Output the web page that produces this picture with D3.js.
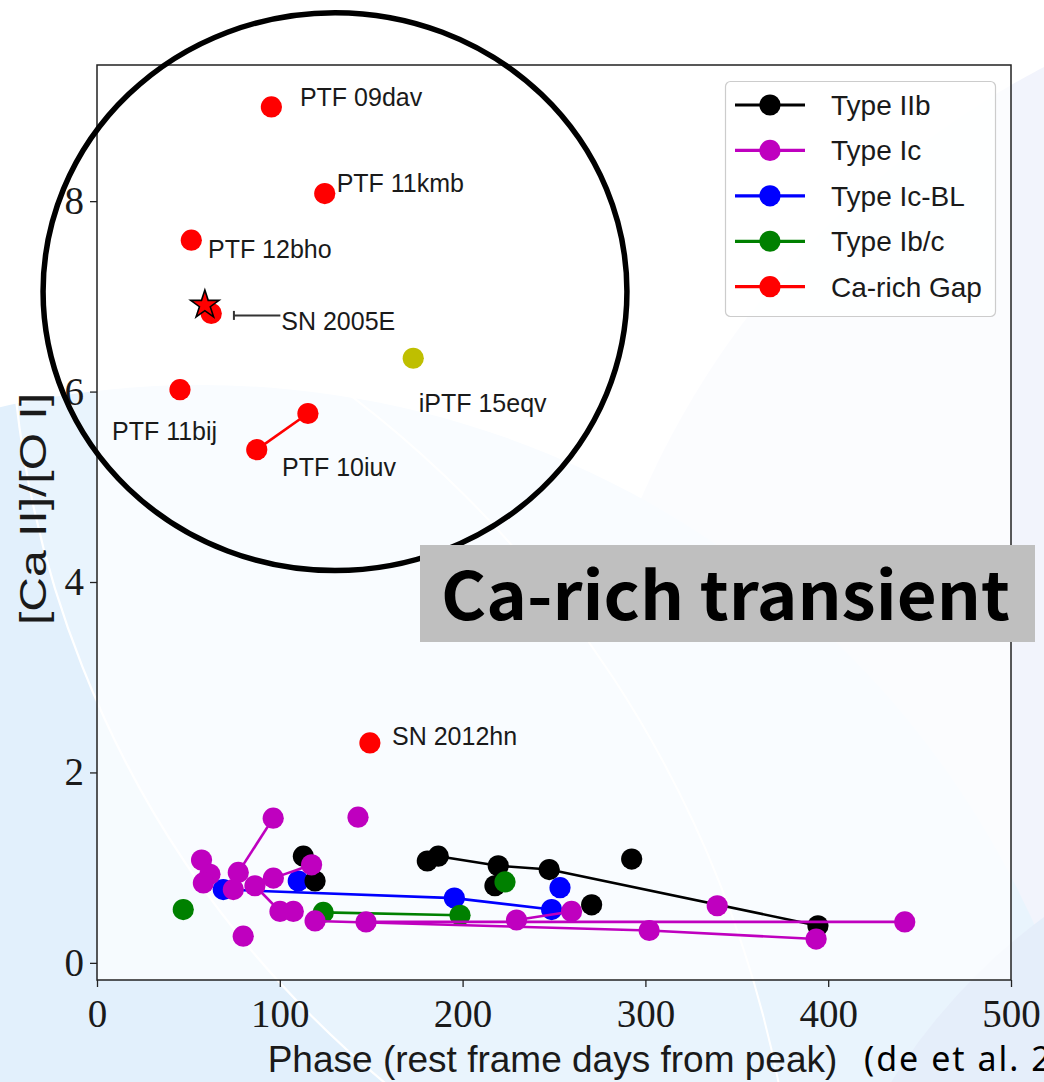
<!DOCTYPE html>
<html>
<head>
<meta charset="utf-8">
<script src="https://cdn.jsdelivr.net/npm/d3@7"></script>
<style>
  html, body { margin: 0; padding: 0; background: #fff; }
  svg { display: block; }
</style>
</head>
<body>
<svg id="chart" width="1044" height="1082"></svg>
<script>
// Nebular [Ca II]/[O I] line ratio against phase for stripped-envelope
// supernovae and Ca-rich gap transients.

const seriesNames = ["Type IIb", "Type Ic", "Type Ic-BL", "Type Ib/c", "Ca-rich Gap"];
const xTickValues = [0, 100, 200, 300, 400, 500];
const yTickValues = [0, 2, 4, 6, 8];

// Each inner list is one object followed over time: [phase (days), ratio].
const typeIIb = [
  [[186.7, 1.12], [219.5, 1.02], [247.4, 0.98], [394.4, 0.39]],
  [[180.7, 1.07]],
  [[217.7, 0.81]],
  [[270.6, 0.61]],
  [[292.5, 1.09]],
  [[112.9, 1.12], [119.3, 0.86]]
];

const typeIc = [
  [[96.4, 1.52], [77.3, 0.95]],
  [[96.5, 0.89], [117.4, 1.03]],
  [[86.4, 0.81], [100.1, 0.54], [107.4, 0.54]],
  [[119.3, 0.44], [302.1, 0.34], [393.4, 0.25]],
  [[147.2, 0.43], [441.9, 0.43]],
  [[229.5, 0.45], [259.6, 0.54]],
  [[57.2, 1.08]],
  [[61.8, 0.93]],
  [[58.2, 0.84]],
  [[74.6, 0.77]],
  [[80.0, 0.28]],
  [[142.8, 1.53]],
  [[339.3, 0.60]]
];

const typeIcBL = [
  [[69.1, 0.77], [195.5, 0.68], [248.7, 0.56]],
  [[110.1, 0.86]],
  [[253.3, 0.79]]
];

const typeIbc = [
  [[47.2, 0.56]],
  [[123.8, 0.53], [198.6, 0.50]],
  [[223.2, 0.85]]
];

const caRichNames = ["PTF 09dav", "PTF 11kmb", "PTF 12bho", "SN 2005E", "PTF 11bij", "PTF 10iuv", "SN 2012hn"];
const caRichTracks = [
  [[95.4, 8.99]],
  [[124.6, 8.08]],
  [[51.6, 7.59]],
  [[62.5, 6.82]],
  [[45.4, 6.02]],
  [[87.4, 5.39], [115.4, 5.77]],
  [[149.3, 2.31]]
];

const iptf15eqvName = "iPTF 15eqv";
const iptf15eqv = [173.0, 6.35];
const sn2005eStar = [59.0, 6.91];

// ---------------------------------------------------------------- layout
const W = 1044, H = 1082;
const plotBox = { left: 97, right: 1011, top: 65, bottom: 980 };

const svg = d3.select("#chart");

const x = d3.scaleLinear().domain([0, 500]).range([plotBox.left, plotBox.right]);
const y = d3.scaleLinear().domain([-0.18, 9.43]).range([plotBox.bottom, plotBox.top]);

const colour = {
  "Type IIb": "#000000",
  "Type Ic": "#bf00bf",
  "Type Ic-BL": "#0000ff",
  "Type Ib/c": "#008000",
  "Ca-rich Gap": "#ff0000"
};
const olive = "#bfbf00";

const markerR = 10.6;
const lineW = 2.6;
const sansFont = "'Liberation Sans', Arial, sans-serif";
const serifFont = "'Liberation Serif', 'DejaVu Serif', serif";

// ---------------------------------------------------------------- slide backdrop
const bg = svg.append("g").attr("class", "backdrop");
bg.append("rect").attr("width", W).attr("height", H).attr("fill", "#ffffff");
bg.append("circle").attr("cx", 1450).attr("cy", 850).attr("r", 882).attr("fill", "#eef0fb");
bg.append("circle").attr("cx", 200).attr("cy", 1300).attr("r", 915).attr("fill", "#e2f0fc");
bg.append("circle").attr("cx", 1400).attr("cy", 1400).attr("r", 600).attr("fill", "#dde8f9");
bg.append("circle").attr("cx", 1042).attr("cy", 287).attr("r", 1032)
  .attr("fill", "#ffffff").attr("fill-opacity", 0.25)
  .attr("stroke", "#ffffff").attr("stroke-width", 2.2);
bg.append("circle").attr("cx", -343).attr("cy", 1304).attr("r", 1143)
  .attr("fill", "none").attr("stroke", "#ffffff").attr("stroke-width", 2);

// axes background (semi-transparent white)
svg.append("rect")
  .attr("x", plotBox.left).attr("y", plotBox.top)
  .attr("width", plotBox.right - plotBox.left)
  .attr("height", plotBox.bottom - plotBox.top)
  .attr("fill", "#ffffff").attr("fill-opacity", 0.7);

// ---------------------------------------------------------------- data
const plot = svg.append("g").attr("class", "plot");
const line = d3.line().x(d => x(d[0])).y(d => y(d[1]));

function drawTracks(tracks, name) {
  const c = colour[name];
  const g = plot.append("g").attr("class", "series");
  tracks.forEach(t => {
    if (t.length > 1) {
      g.append("path").datum(t).attr("d", line)
        .attr("fill", "none").attr("stroke", c).attr("stroke-width", lineW)
        .attr("stroke-linejoin", "round");
    }
    g.selectAll(null).data(t).join("circle")
      .attr("cx", d => x(d[0])).attr("cy", d => y(d[1]))
      .attr("r", markerR).attr("fill", c);
  });
}

drawTracks(typeIcBL, "Type Ic-BL");
drawTracks(typeIIb, "Type IIb");
drawTracks(typeIbc, "Type Ib/c");
drawTracks(typeIc, "Type Ic");
drawTracks(caRichTracks, "Ca-rich Gap");

plot.append("circle")
  .attr("cx", x(iptf15eqv[0])).attr("cy", y(iptf15eqv[1]))
  .attr("r", markerR).attr("fill", olive);

plot.append("path")
  .attr("d", d3.symbol().type(d3.symbolStar).size(250)())
  .attr("transform", `translate(${x(sn2005eStar[0])},${y(sn2005eStar[1])})`)
  .attr("fill", "#ff0000").attr("stroke", "#000").attr("stroke-width", 1.6)
  .attr("stroke-linejoin", "miter");

// object labels: [phase, ratio] of the text's left baseline
const labelSpots = [
  [111.0, 9.00], [131.1, 8.10], [60.7, 7.40], [100.8, 6.65],
  [8.2, 5.49], [101.2, 5.11], [161.4, 2.29]
];
const labels = plot.append("g")
  .attr("font-family", sansFont).attr("font-size", 25).attr("fill", "#1a1a1a");
caRichNames.forEach((n, i) => {
  labels.append("text")
    .attr("x", x(labelSpots[i][0])).attr("y", y(labelSpots[i][1]))
    .text(n);
});
labels.append("text")
  .attr("x", x(176.0)).attr("y", y(5.79))
  .text(iptf15eqvName);

// SN 2005E pointer from its label back to the star
const arrowY = y(6.80), arrowHead = x(74.9), arrowTail = x(100.3);
plot.append("line")
  .attr("x1", arrowHead).attr("x2", arrowTail)
  .attr("y1", arrowY).attr("y2", arrowY)
  .attr("stroke", "#333").attr("stroke-width", 2);
plot.append("line")
  .attr("x1", arrowHead).attr("x2", arrowHead)
  .attr("y1", arrowY - 4.5).attr("y2", arrowY + 4.5)
  .attr("stroke", "#333").attr("stroke-width", 2);

// ---------------------------------------------------------------- axes
const xAxis = d3.axisBottom(x).tickValues(xTickValues).tickSize(7).tickPadding(12)
  .tickFormat(d3.format("d"));
const yAxis = d3.axisLeft(y).tickValues(yTickValues).tickSize(7).tickPadding(6)
  .tickFormat(d3.format("d"));

const gx = svg.append("g").attr("transform", `translate(0,${plotBox.bottom})`).call(xAxis);
const gy = svg.append("g").attr("transform", `translate(${plotBox.left},0)`).call(yAxis);
[gx, gy].forEach(g => {
  g.select(".domain").remove();
  g.selectAll(".tick line").attr("stroke", "#222").attr("stroke-width", 1.3);
  g.selectAll(".tick text")
    .attr("font-family", serifFont).attr("font-size", 39).attr("fill", "#1a1a1a");
});

svg.append("rect")
  .attr("x", plotBox.left).attr("y", plotBox.top)
  .attr("width", plotBox.right - plotBox.left)
  .attr("height", plotBox.bottom - plotBox.top)
  .attr("fill", "none").attr("stroke", "#222").attr("stroke-width", 1.5);

svg.append("text")
  .attr("x", (265 + 840) / 2).attr("y", 1072)
  .attr("text-anchor", "middle")
  .attr("font-family", sansFont).attr("font-size", 37).attr("fill", "#1a1a1a")
  .text("Phase (rest frame days from peak)");

svg.append("text")
  .attr("transform", "translate(46,509) rotate(-90)")
  .attr("text-anchor", "middle")
  .attr("font-family", sansFont).attr("font-size", 37).attr("fill", "#1a1a1a")
  .attr("textLength", 232).attr("lengthAdjust", "spacingAndGlyphs")
  .text("[Ca II]/[O I]");

svg.append("text")
  .attr("x", 864).attr("y", 1071)
  .attr("font-family", "'Noto Sans', sans-serif").attr("font-size", 34)
  .attr("letter-spacing", 2).attr("fill", "#000")
  .text("(de et al. 2018)");

// ---------------------------------------------------------------- legend
const legend = svg.append("g");
legend.append("rect")
  .attr("x", 725.5).attr("y", 81.5).attr("width", 270).attr("height", 235)
  .attr("rx", 5).attr("fill", "#ffffff").attr("fill-opacity", 0.8)
  .attr("stroke", "#cccccc").attr("stroke-width", 1.2);
const rowY = d3.scaleLinear().domain([0, 4]).range([105, 286.7]);
seriesNames.forEach((n, i) => {
  const ry = rowY(i);
  legend.append("line")
    .attr("x1", 735).attr("x2", 805).attr("y1", ry).attr("y2", ry)
    .attr("stroke", colour[n]).attr("stroke-width", 3.2);
  legend.append("circle").attr("cx", 770).attr("cy", ry).attr("r", markerR).attr("fill", colour[n]);
  legend.append("text").attr("x", 831).attr("y", ry + 10)
    .attr("font-family", sansFont).attr("font-size", 28).attr("fill", "#1a1a1a")
    .text(n);
});

// ---------------------------------------------------------------- highlight
svg.append("ellipse")
  .attr("cx", x(130.2)).attr("cy", y(7.05))
  .attr("rx", x(130.2 + 159.7) - x(130.2))
  .attr("ry", y(7.05 - 2.93) - y(7.05))
  .attr("fill", "none").attr("stroke", "#000").attr("stroke-width", 5.5);

svg.append("rect")
  .attr("x", 420).attr("y", 545).attr("width", 615).attr("height", 97)
  .attr("fill", "#bfbfbf");
svg.append("text")
  .attr("x", 441).attr("y", 620)
  .attr("font-family", "'Noto Sans CJK JP', 'Noto Sans', sans-serif")
  .attr("font-weight", 700).attr("font-size", 66).attr("fill", "#000")
  .attr("textLength", 569).attr("lengthAdjust", "spacingAndGlyphs")
  .text("Ca-rich transient");
</script>
</body>
</html>
